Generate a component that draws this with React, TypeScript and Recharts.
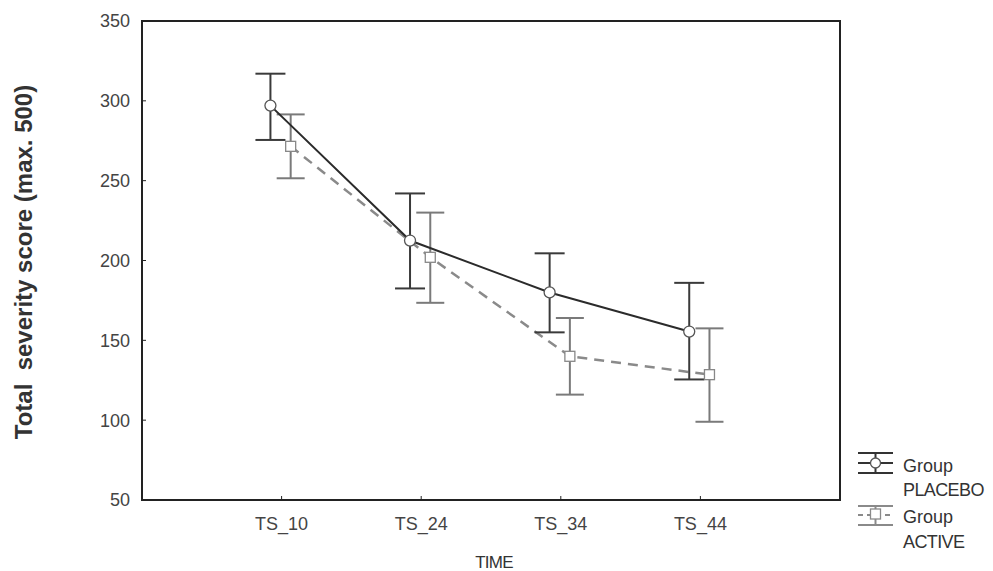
import React from 'react';
import { ComposedChart, Line, XAxis, YAxis, ErrorBar, ReferenceArea } from 'recharts';

const timePoints = ['TS_10', 'TS_24', 'TS_34', 'TS_44'];
const placeboMean = [297, 212.5, 180, 155.5];
const placeboUpper = [317, 242, 204.5, 186];
const placeboLower = [275.5, 182.5, 155, 125.5];
const activeMean = [271.5, 202, 140, 128.5];
const activeUpper = [291.5, 230, 164, 157.5];
const activeLower = [251.5, 173.5, 116, 99];
const yTicks = [50, 100, 150, 200, 250, 300, 350];
const xTicks = [1, 2, 3, 4];

// small horizontal offsets so the two groups don't overlap
const PLACEBO_SHIFT = -0.08;
const ACTIVE_SHIFT = 0.065;

const FONT = '"Liberation Sans", Arial, sans-serif';

const build = (mean: number[], upper: number[], lower: number[], shift: number) =>
  mean.map((m, i) => ({ x: i + 1 + shift, y: m, err: [m - lower[i], upper[i] - m] }));

const placeboData = build(placeboMean, placeboUpper, placeboLower, PLACEBO_SHIFT);
const activeData = build(activeMean, activeUpper, activeLower, ACTIVE_SHIFT);

const CircleDot = (p: any) => (
  <circle key={`c-${p.index}`} cx={p.cx} cy={p.cy} r={5.5} fill="#fff" stroke="#555" strokeWidth={1.3} />
);

const SquareDot = (p: any) => (
  <rect key={`s-${p.index}`} x={p.cx - 5} y={p.cy - 5} width={10} height={10} fill="#fff" stroke="#888" strokeWidth={1.3} />
);

const frame = { stroke: '#222', strokeWidth: 2 };
const tickStyle = { fill: '#444', fontSize: 18, fontFamily: FONT };

export default function App() {
  return (
    <div style={{ position: 'absolute', left: 0, top: 0, width: 993, height: 571, background: '#fff', fontFamily: FONT }}>
      <ComposedChart width={993} height={571} margin={{ top: 21, right: 153, bottom: 41, left: 82 }}>
        <XAxis
          type="number"
          dataKey="x"
          domain={[0, 5]}
          ticks={xTicks}
          tickFormatter={(v: number) => timePoints[v - 1]}
          height={30}
          axisLine={frame}
          tickLine={{ stroke: '#222' }}
          tickSize={-4}
          tickMargin={21}
          tick={tickStyle}
          allowDataOverflow
        />
        <YAxis
          domain={[50, 350]}
          ticks={yTicks}
          width={60}
          axisLine={frame}
          tickLine={{ stroke: '#222' }}
          tickSize={-4}
          tickMargin={16}
          tick={tickStyle}
          allowDataOverflow
        />
        {/* plot frame */}
        <ReferenceArea x1={0} x2={5} y1={50} y2={350} fill="none" stroke="#222" strokeWidth={2} fillOpacity={0} />
        <Line
          data={activeData}
          dataKey="y"
          stroke="#8a8a8a"
          strokeWidth={2.5}
          strokeDasharray="10 7"
          dot={SquareDot}
          activeDot={false}
          isAnimationActive={false}
        >
          <ErrorBar dataKey="err" direction="y" width={14} stroke="#7a7a7a" strokeWidth={2} />
        </Line>
        <Line
          data={placeboData}
          dataKey="y"
          stroke="#2b2b2b"
          strokeWidth={2}
          dot={CircleDot}
          activeDot={false}
          isAnimationActive={false}
        >
          <ErrorBar dataKey="err" direction="y" width={15} stroke="#3a3a3a" strokeWidth={2} />
        </Line>
      </ComposedChart>

      <svg width={993} height={571} style={{ position: 'absolute', left: 0, top: 0, pointerEvents: 'none' }}>
        <text
          transform="translate(23,262) rotate(-90)"
          textAnchor="middle"
          dominantBaseline="central"
          fontFamily={FONT}
          fontWeight="bold"
          fontSize={24}
          fill="#333"
          style={{ whiteSpace: 'pre' }}
        >
          {'Total  severity score (max. 500)'}
        </text>
        <text x={494} y={568} textAnchor="middle" fontFamily={FONT} fontSize={17} fill="#333" letterSpacing={-0.8}>
          TIME
        </text>

        {/* legend */}
        <g stroke="#333" strokeWidth={2}>
          <line x1={858} x2={893} y1={453} y2={453} />
          <line x1={858} x2={893} y1={463} y2={463} />
          <line x1={858} x2={893} y1={473} y2={473} />
          <line x1={875.5} x2={875.5} y1={453} y2={473} />
          <circle cx={875.5} cy={463} r={5} fill="#fff" strokeWidth={1.3} stroke="#555" />
        </g>
        <g stroke="#8a8a8a" strokeWidth={2}>
          <line x1={858} x2={893} y1={506} y2={506} />
          <line x1={858} x2={893} y1={515} y2={515} strokeDasharray="5 4" />
          <line x1={858} x2={893} y1={525} y2={525} />
          <line x1={875.5} x2={875.5} y1={506} y2={525} />
          <rect x={870.5} y={509} width={10} height={10} fill="#fff" strokeWidth={1.3} />
        </g>
        <g fontFamily={FONT} fontSize={18} fill="#333">
          <text x={903} y={472}>Group</text>
          <text x={903} y={496} letterSpacing={-0.6}>PLACEBO</text>
          <text x={903} y={523}>Group</text>
          <text x={903} y={548} letterSpacing={-0.6}>ACTIVE</text>
        </g>
      </svg>
    </div>
  );
}
